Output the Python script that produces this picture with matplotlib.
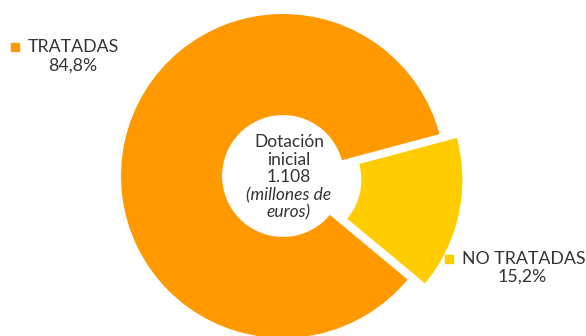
import matplotlib
matplotlib.use("Agg")
import matplotlib.pyplot as plt

categories = ["TRATADAS", "NO TRATADAS"]
values = [84.8, 15.2]
value_labels = ["84,8%", "15,2%"]
colors = ["#FF9900", "#FFCC00"]
center_lines = ["Dotación", "inicial", "1.108", "(millones de", "euros)"]

W, H = 586, 336
fig = plt.figure(figsize=(W / 100, H / 100), dpi=100)
plt.rcParams['font.family'] = ['Lato', 'DejaVu Sans']

# donut geometry in pixels
cx, cy, R = 283, 176, 162
lim = 1.3
size = 2 * lim * R
ax = fig.add_axes([(cx - size / 2) / W, ((H - cy) - size / 2) / H, size / W, size / H])

hole = 0.376
ax.pie(values, colors=colors, startangle=15, counterclock=True,
       explode=[0, 0.11], radius=1,
       wedgeprops=dict(width=1 - hole, linewidth=0))
ax.set_xlim(-lim, lim)
ax.set_ylim(-lim, lim)
ax.set_aspect('equal')
ax.axis('off')

def fx(x):
    return x / W

def fy(y):
    return 1 - y / H

tc = "#333333"
# center text
ys = [142, 160, 177, 195, 212]
for i, (line, y) in enumerate(zip(center_lines, ys)):
    style = 'italic' if i >= 3 else 'normal'
    fig.text(fx(289), fy(y), line, ha='center', va='center', fontsize=12.5,
             color=tc, style=style)

# legend-like labels
fig.patches.append(plt.Rectangle((fx(11), fy(51)), 8 / W, 8 / H, transform=fig.transFigure,
                                 color=colors[0], figure=fig))
fig.text(fx(28), fy(47.5), categories[0], ha='left', va='center', fontsize=12.8, color=tc)
fig.text(fx(73), fy(65.5), value_labels[0], ha='center', va='center', fontsize=12.8, color=tc)

fig.patches.append(plt.Rectangle((fx(445), fy(263)), 8 / W, 8 / H, transform=fig.transFigure,
                                 color=colors[1], figure=fig))
fig.text(fx(462), fy(259), categories[1], ha='left', va='center', fontsize=12.8, color=tc)
fig.text(fx(522), fy(277), value_labels[1], ha='center', va='center', fontsize=12.8, color=tc)

fig.savefig("out.png", dpi=100)
